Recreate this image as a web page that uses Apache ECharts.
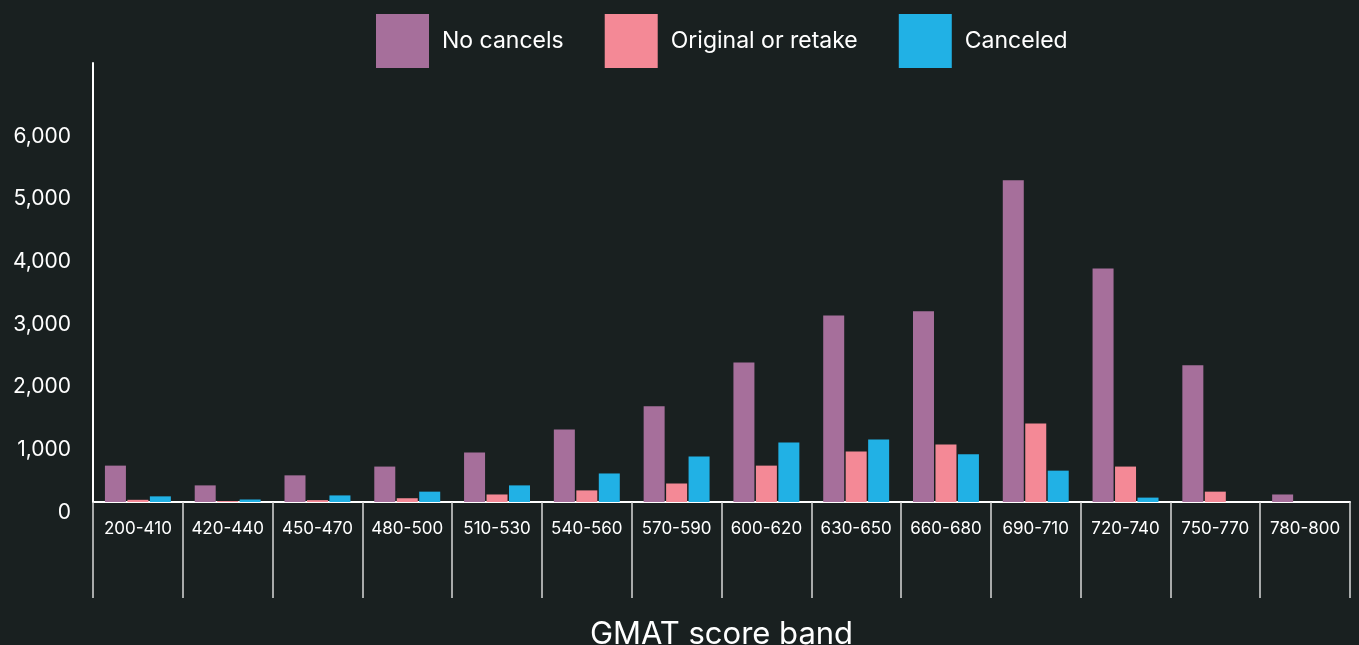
<!DOCTYPE html>
<html>
<head>
<meta charset="utf-8">
<script src="https://cdn.jsdelivr.net/npm/echarts@6/dist/echarts.min.js"></script>
<style>
  html, body { margin: 0; padding: 0; background: #192020; }
  #chart { width: 1359px; height: 645px; }
</style>
</head>
<body>
<div id="chart"></div>
<script>
const categories = ['200-410', '420-440', '450-470', '480-500', '510-530', '540-560', '570-590',
  '600-620', '630-650', '660-680', '690-710', '720-740', '750-770', '780-800'];
const noCancels = [580, 265, 425, 565, 790, 1155, 1525, 2225, 2975, 3040, 5130, 3725, 2180, 120];
const originalOrRetake = [35, 15, 30, 60, 120, 185, 295, 580, 805, 915, 1250, 565, 165, 0];
const canceled = [90, 40, 105, 165, 265, 455, 725, 950, 995, 760, 500, 70, 0, 0];

const font = 'Inter';
const colors = ['#a66f9b', '#f48996', '#21b1e5'];

const chart = echarts.init(document.getElementById('chart'));

function barSeries(name, data) {
  return {
    name,
    type: 'bar',
    data,
    barWidth: 21,
    barGap: '7%'
  };
}

const option = {
  backgroundColor: '#192020',
  color: colors,
  animation: false,
  legend: {
    top: 9,
    left: 371,
    itemWidth: 53,
    itemHeight: 54,
    itemGap: 41,
    icon: 'rect',
    textStyle: {
      color: '#ffffff',
      fontFamily: font,
      fontSize: 23,
      padding: [0, 0, 0, 8]
    }
  },
  grid: {
    left: 93,
    right: 9,
    top: 63,
    bottom: 143,
    outerBoundsMode: 'none'
  },
  xAxis: {
    type: 'category',
    data: categories,
    name: 'GMAT score band',
    nameLocation: 'middle',
    nameGap: 117,
    nameTextStyle: {
      color: '#ffffff',
      fontFamily: font,
      fontSize: 31
    },
    axisLine: {
      lineStyle: { color: '#ffffff', width: 2 }
    },
    axisTick: {
      show: true,
      interval: 0,
      length: 96,
      lineStyle: { color: '#d8d8d8', width: 1.5 }
    },
    axisLabel: {
      interval: 0,
      color: '#ffffff',
      fontFamily: font,
      fontSize: 17,
      margin: 18
    }
  },
  yAxis: {
    type: 'value',
    min: 0,
    max: 7000,
    interval: 1000,
    axisLine: {
      show: true,
      lineStyle: { color: '#ffffff', width: 2 }
    },
    axisTick: { show: false },
    splitLine: { show: false },
    axisLabel: {
      color: '#ffffff',
      fontFamily: font,
      fontSize: 21,
      margin: 22,
      verticalAlign: 'top',
      showMaxLabel: false,
      formatter: val => (val === 7000 ? '' : val.toLocaleString('en-US'))
    }
  },
  series: [
    barSeries('No cancels', noCancels),
    barSeries('Original or retake', originalOrRetake),
    barSeries('Canceled', canceled)
  ]
};

chart.setOption(option);
</script>
</body>
</html>
